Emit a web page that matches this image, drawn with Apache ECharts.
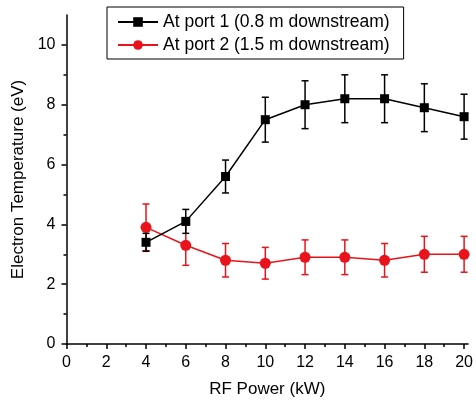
<!DOCTYPE html>
<html>
<head>
<meta charset="utf-8">
<script src="https://cdn.jsdelivr.net/npm/echarts@6/dist/echarts.min.js"></script>
<style>
  html, body { margin: 0; padding: 0; background: #fff; }
  #chart { width: 476px; height: 403px; }
</style>
</head>
<body>
<div id="chart"></div>
<script>
// RF power settings (kW)
const rfPower = [4, 6, 8, 10, 12, 14, 16, 18, 20];

// Electron temperature at port 1 (0.8 m downstream), eV, with error
const tePort1 = [3.4, 4.1, 5.6, 7.5, 8.0, 8.2, 8.2, 7.9, 7.6];
const errPort1 = [0.3, 0.4, 0.55, 0.75, 0.8, 0.8, 0.8, 0.8, 0.75];

// Electron temperature at port 2 (1.5 m downstream), eV, with error
const tePort2 = [3.9, 3.3, 2.8, 2.7, 2.9, 2.9, 2.8, 3.0, 3.0];
const errPort2 = [0.78, 0.67, 0.56, 0.53, 0.58, 0.58, 0.56, 0.6, 0.6];

// Axis ticks
const xMajorTicks = [0, 2, 4, 6, 8, 10, 12, 14, 16, 18, 20];
const xMinorTicks = [1, 3, 5, 7, 9, 11, 13, 15, 17, 19];
const yMajorTicks = [0, 2, 4, 6, 8, 10];
const yMinorTicks = [1, 3, 5, 7, 9];

const seriesNames = ['At port 1 (0.8 m downstream)', 'At port 2 (1.5 m downstream)'];
const BLACK = '#000000';
const RED = '#e8131b';
const FONT = 'Liberation Sans, Arial, sans-serif';

function errorBarSeries(id, values, errors, color, z) {
  const data = rfPower.map((x, i) => [x, values[i] - errors[i], values[i] + errors[i]]);
  return {
    type: 'custom',
    id: id,
    xAxisIndex: 0,
    yAxisIndex: 0,
    z: z,
    silent: true,
    data: data,
    renderItem: function (params, api) {
      const lo = api.coord([api.value(0), api.value(1)]);
      const hi = api.coord([api.value(0), api.value(2)]);
      const half = 3.5;
      const style = { stroke: color, lineWidth: 1.5, fill: null };
      return {
        type: 'group',
        children: [
          { type: 'line', shape: { x1: lo[0], y1: lo[1], x2: hi[0], y2: hi[1] }, style: style },
          { type: 'line', shape: { x1: lo[0] - half, y1: lo[1], x2: lo[0] + half, y2: lo[1] }, style: style },
          { type: 'line', shape: { x1: hi[0] - half, y1: hi[1], x2: hi[0] + half, y2: hi[1] }, style: style }
        ]
      };
    },
    encode: { x: 0, y: [1, 2] }
  };
}

const axisLine = { show: true, onZero: false, lineStyle: { color: BLACK, width: 1.5 } };

const option = {
  animation: false,
  backgroundColor: '#fff',
  grid: { left: 66.5, right: 5, top: 15, bottom: 57, containLabel: false },
  legend: {
    orient: 'vertical',
    left: 107,
    top: 7,
    padding: [6, 14, 5, 10],
    itemGap: 5,
    itemWidth: 40,
    itemHeight: 12,
    borderColor: '#000',
    borderWidth: 1,
    data: seriesNames,
    textStyle: { color: BLACK, fontSize: 17.5, fontFamily: FONT }
  },
  xAxis: [
    {
      type: 'value', min: 0, max: 20.2,
      name: 'RF Power (kW)', nameLocation: 'middle', nameGap: 37,
      nameTextStyle: { color: BLACK, fontSize: 17, fontFamily: FONT },
      axisLine: axisLine,
      axisTick: { show: true, customValues: xMajorTicks, length: 5, lineStyle: { color: BLACK, width: 1.5 } },
      axisLabel: { customValues: xMajorTicks, color: BLACK, fontSize: 16, fontFamily: FONT, margin: 11 },
      splitLine: { show: false }
    },
    {
      type: 'value', min: 0, max: 20.2, position: 'bottom', gridIndex: 0,
      axisLine: { show: false },
      axisTick: { show: true, customValues: xMinorTicks, length: 3, lineStyle: { color: BLACK, width: 1.5 } },
      axisLabel: { show: false },
      splitLine: { show: false }
    }
  ],
  yAxis: [
    {
      type: 'value', min: 0, max: 11,
      name: 'Electron Temperature (eV)', nameLocation: 'middle', nameGap: 32,
      nameTextStyle: { color: BLACK, fontSize: 17, fontFamily: FONT },
      axisLine: axisLine,
      axisTick: { show: true, customValues: yMajorTicks, length: 5, lineStyle: { color: BLACK, width: 1.5 } },
      axisLabel: { customValues: yMajorTicks, color: BLACK, fontSize: 16, fontFamily: FONT, margin: 11 },
      splitLine: { show: false }
    },
    {
      type: 'value', min: 0, max: 11, position: 'left', gridIndex: 0,
      axisLine: { show: false },
      axisTick: { show: true, customValues: yMinorTicks, length: 3, lineStyle: { color: BLACK, width: 1.5 } },
      axisLabel: { show: false },
      splitLine: { show: false }
    }
  ],
  series: [
    {
      name: seriesNames[0], type: 'line', z: 5,
      data: rfPower.map((x, i) => [x, tePort1[i]]),
      symbol: 'rect', symbolSize: 9,
      itemStyle: { color: BLACK },
      lineStyle: { color: BLACK, width: 1.5 }
    },
    {
      name: seriesNames[1], type: 'line', z: 3,
      data: rfPower.map((x, i) => [x, tePort2[i]]),
      symbol: 'circle', symbolSize: 11,
      itemStyle: { color: RED },
      lineStyle: { color: RED, width: 1.5 }
    },
    errorBarSeries('port1-error', tePort1, errPort1, BLACK, 4),
    errorBarSeries('port2-error', tePort2, errPort2, RED, 2)
  ]
};

const chart = echarts.init(document.getElementById('chart'), null, { renderer: 'canvas' });
chart.setOption(option);
</script>
</body>
</html>
